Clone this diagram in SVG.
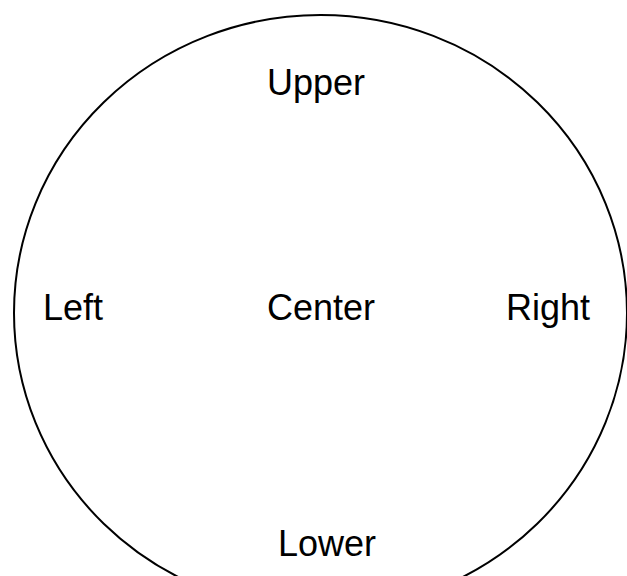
<svg xmlns="http://www.w3.org/2000/svg" width="627" height="576" viewBox="0 0 627 576">
<style>
  .lbl { font-family: "Liberation Sans", Arial, sans-serif; font-size: 36px; fill: #000; text-anchor: middle; }
  .ring { fill: none; stroke: #000; stroke-width: 2; }
</style>
<rect width="627" height="576" fill="#fff"/>
<g id="circle">
  <ellipse class="ring" cx="320.5" cy="313" rx="306.5" ry="298"/>
</g>
<g id="upper"><text class="lbl" x="316" y="95">Upper</text></g>
<g id="left"><text class="lbl" x="73" y="320">Left</text></g>
<g id="center"><text class="lbl" x="321" y="320">Center</text></g>
<g id="right"><text class="lbl" x="548" y="320">Right</text></g>
<g id="lower"><text class="lbl" x="327" y="556">Lower</text></g>
</svg>
